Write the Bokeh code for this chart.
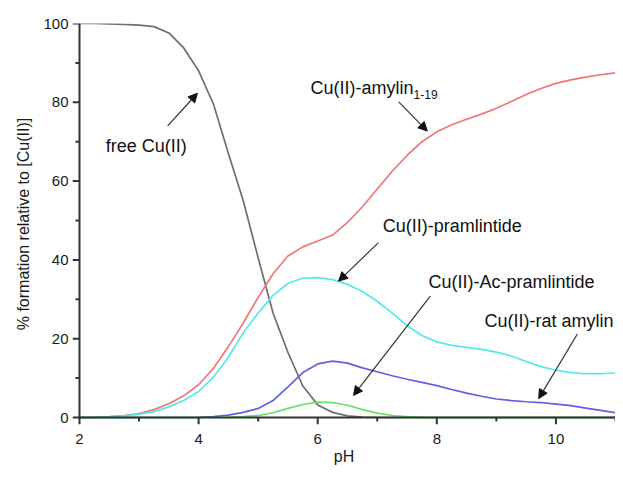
from bokeh.plotting import figure
from bokeh.models import Range1d, Label, Arrow, NormalHead, FixedTicker
from bokeh.embed import file_html
from bokeh.resources import INLINE

# ---------------- data ----------------
ph = [2.0, 2.25, 2.5, 2.75, 3.0, 3.25, 3.5, 3.75, 4.0, 4.25, 4.5, 4.75, 5.0, 5.25,
      5.5, 5.75, 6.0, 6.25, 6.5, 6.75, 7.0, 7.25, 7.5, 7.75, 8.0, 8.25, 8.5, 8.75,
      9.0, 9.25, 9.5, 9.75, 10.0, 10.25, 10.5, 10.75, 11.0]

free_cu = [100, 100, 99.9, 99.8, 99.6, 99.2, 97.6, 93.8, 88.0, 79.5, 67.0, 55.0, 40.5, 26.5,
           16.5, 8.0, 3.2, 1.3, 0.4, 0.1, 0, 0, 0, 0, 0, 0, 0, 0,
           0, 0, 0, 0, 0, 0, 0, 0, 0]

amylin_1_19 = [0, 0.05, 0.2, 0.5, 1.0, 2.0, 3.5, 5.5, 8.3, 12.5, 18.0, 24.0, 30.5, 36.5,
               41.0, 43.3, 44.8, 46.3, 49.5, 53.5, 58.0, 62.5, 66.5, 70.0, 72.5, 74.3, 75.7, 77.0,
               78.5, 80.2, 82.0, 83.5, 84.8, 85.7, 86.4, 87.0, 87.5]

pramlintide = [0, 0.05, 0.15, 0.4, 0.8, 1.5, 2.7, 4.3, 6.6, 10.3, 15.3, 21.5, 26.5, 31.0,
               34.0, 35.4, 35.5, 35.0, 33.8, 32.0, 29.5, 26.5, 23.3, 20.8, 19.2, 18.3, 17.8, 17.3,
               16.6, 15.6, 14.2, 12.9, 12.0, 11.4, 11.1, 11.1, 11.3]

rat_amylin = [0, 0, 0, 0, 0, 0, 0, 0, 0.05, 0.2, 0.6, 1.3, 2.3, 4.3,
              7.8, 11.4, 13.6, 14.3, 13.8, 12.6, 11.6, 10.6, 9.7, 8.9, 8.1, 7.1, 6.2, 5.4,
              4.7, 4.3, 4.0, 3.8, 3.4, 3.0, 2.4, 1.8, 1.2]

ac_pramlintide = [0, 0, 0, 0, 0, 0, 0, 0, 0, 0, 0.05, 0.2, 0.5, 1.2,
                  2.3, 3.3, 3.9, 3.8, 3.1, 2.0, 1.1, 0.5, 0.2, 0.05, 0, 0, 0, 0,
                  0, 0, 0, 0, 0, 0, 0, 0, 0]

x_ticks = [2, 4, 6, 8, 10]
x_minor = [3, 5, 7, 9, 11]
y_ticks = [0, 20, 40, 60, 80, 100]
y_minor = [10, 30, 50, 70, 90]
X_MIN, X_MAX = 2, 11
Y_MIN, Y_MAX = 0, 100

label_texts = ["free Cu(II)", "Cu(II)-amylin", "Cu(II)-pramlintide",
               "Cu(II)-Ac-pramlintide", "Cu(II)-rat amylin"]
label_x = [2.44, 5.88, 7.09, 7.86, 8.80]
label_y = [68.9, 83.6, 48.5, 34.3, 24.5]
arrow_x0 = [3.48, 7.36, 7.02, 7.89, 10.36]
arrow_y0 = [74.0, 80.1, 44.4, 30.8, 21.2]
arrow_x1 = [3.98, 7.84, 6.35, 6.60, 9.71]
arrow_y1 = [82.3, 72.7, 34.6, 5.6, 4.8]

# ---------------- geometry ----------------
W, H = 615, 470
LEFT, TOP, BOTTOM = 72, 23, 46          # borders around the frame
TICK = 7                                # outward major tick length, px
MINOR = 4                               # outward minor tick length, px
frame_w = W - LEFT
frame_h = H - TOP - BOTTOM
sx = (frame_w - TICK) / (X_MAX - X_MIN)
sy = (frame_h - TICK) / (Y_MAX - Y_MIN)
dx = TICK / sx
dy = TICK / sy
hx = 1.0 / sx                           # half of a 2px stroke, in data units
hy = 1.0 / sy

FONT = "Liberation Sans"
AX_COL = "#333333"

p = figure(width=W, height=H, output_backend="svg", toolbar_location=None,
           x_range=Range1d(X_MIN - dx, X_MAX), y_range=Range1d(Y_MIN - dy, Y_MAX),
           min_border_left=LEFT, min_border_right=0, min_border_top=TOP,
           min_border_bottom=BOTTOM)
p.outline_line_color = None
p.xgrid.grid_line_color = None
p.ygrid.grid_line_color = None

series = [
    (free_cu, "#6f6f6f"),
    (amylin_1_19, "#f27575"),
    (pramlintide, "#55e8f0"),
    (rat_amylin, "#6060e6"),
    (ac_pramlintide, "#66e066"),
]
for ys, col in series:
    p.line(ph, ys, line_color=col, line_width=1.7)

# axis rules and ticks, drawn as thin filled bars
p.quad(left=[X_MIN - hx, X_MIN - hx], right=[X_MAX, X_MIN + hx],
       bottom=[Y_MIN - hy, Y_MIN - hy], top=[Y_MIN + hy, Y_MAX],
       fill_color=AX_COL, line_color=None)
p.quad(left=[t - hx for t in x_ticks], right=[t + hx for t in x_ticks],
       bottom=[Y_MIN - dy] * len(x_ticks), top=[Y_MIN] * len(x_ticks),
       fill_color=AX_COL, line_color=None)
p.quad(left=[t - hx for t in x_minor], right=[t + hx for t in x_minor],
       bottom=[Y_MIN - MINOR / sy] * len(x_minor), top=[Y_MIN] * len(x_minor),
       fill_color=AX_COL, line_color=None)
p.quad(left=[X_MIN - dx] * len(y_ticks), right=[X_MIN] * len(y_ticks),
       bottom=[t - hy for t in y_ticks], top=[t + hy for t in y_ticks],
       fill_color=AX_COL, line_color=None)
p.quad(left=[X_MIN - MINOR / sx] * len(y_minor), right=[X_MIN] * len(y_minor),
       bottom=[t - hy for t in y_minor], top=[t + hy for t in y_minor],
       fill_color=AX_COL, line_color=None)

p.xaxis.ticker = FixedTicker(ticks=x_ticks, minor_ticks=[])
p.yaxis.ticker = FixedTicker(ticks=y_ticks, minor_ticks=[])

p.axis.axis_line_color = None
p.axis.major_tick_line_color = None
p.axis.minor_tick_line_color = None
p.axis.major_tick_out = 0
p.axis.major_tick_in = 0
p.axis.minor_tick_out = 0
p.axis.minor_tick_in = 0
p.axis.major_label_text_font = FONT
p.axis.major_label_text_font_size = "15px"
p.axis.major_label_text_color = "#1a1a1a"
p.axis.axis_label_text_font = FONT
p.axis.axis_label_text_font_size = "16px"
p.axis.axis_label_text_font_style = "normal"
p.axis.axis_label_text_color = "#1a1a1a"

p.xaxis.axis_label = "pH"
p.yaxis.axis_label = "% formation relative to [Cu(II)]"
p.xaxis.major_label_standoff = 9
p.xaxis.axis_label_standoff = 1
p.yaxis.major_label_standoff = 4
p.yaxis.axis_label_standoff = 8

for t, lx, ly in zip(label_texts, label_x, label_y):
    p.add_layout(Label(x=lx, y=ly, text=t, text_font=FONT, text_font_size="18px",
                       text_baseline="middle", text_align="left", text_color="#111111"))

# subscript for amylin(1-19)
p.add_layout(Label(x=label_x[1], y=label_y[1], x_offset=103, y_offset=-6, text="1-19",
                   text_font=FONT, text_font_size="12px", text_baseline="middle",
                   text_align="left", text_color="#111111"))

for x0, y0, x1, y1 in zip(arrow_x0, arrow_y0, arrow_x1, arrow_y1):
    p.add_layout(Arrow(x_start=x0, y_start=y0, x_end=x1, y_end=y1,
                       line_color="#333333", line_width=1.2,
                       end=NormalHead(size=9, fill_color="#111111", line_color="#111111",
                                      line_width=1)))

open("out.html", "w").write(file_html(p, INLINE))
